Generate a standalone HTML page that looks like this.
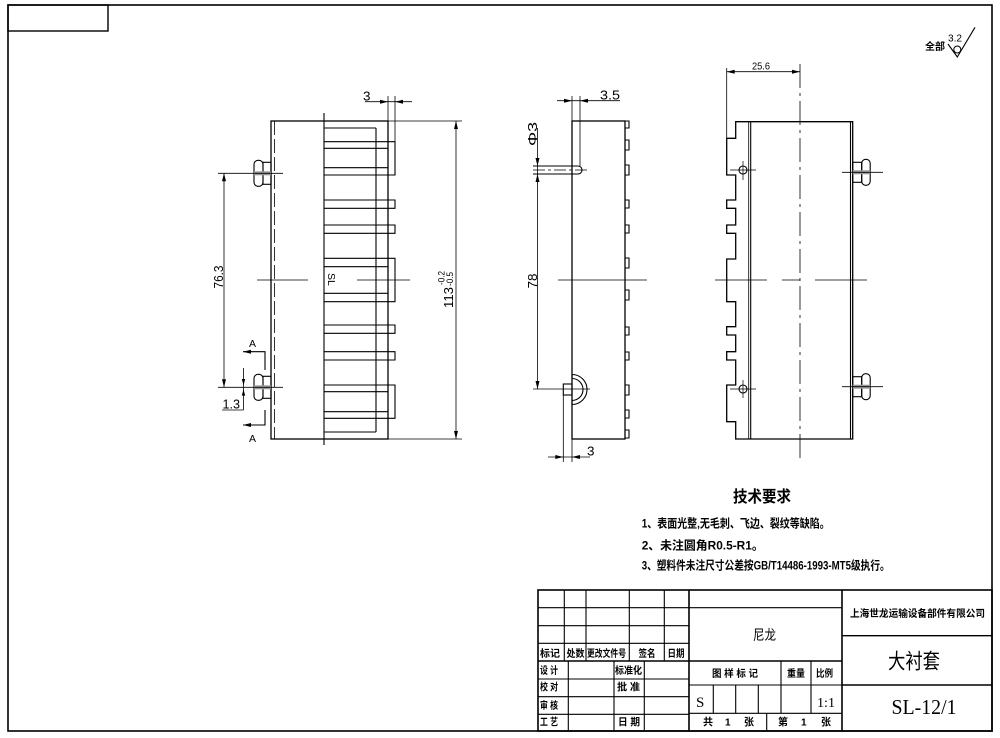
<!DOCTYPE html>
<html><head><meta charset="utf-8"><style>
html,body{margin:0;padding:0;background:#fff;}
svg{display:block;}
text{font-family:"Liberation Sans","Noto Sans CJK SC",sans-serif;fill:#000;stroke:none;}
.c{font-family:"Liberation Sans","Noto Sans CJK SC","WenQuanYi Zen Hei",sans-serif;font-weight:bold;}
.n{font-family:"Liberation Sans","Noto Sans CJK SC","WenQuanYi Zen Hei",sans-serif;font-weight:normal;}
.s{font-family:"Liberation Serif","Noto Serif CJK SC",serif;}
.d{font-family:"Liberation Sans",sans-serif;}
</style></head><body>
<svg width="1000" height="738" viewBox="0 0 1000 738" xmlns="http://www.w3.org/2000/svg">
<rect width="1000" height="738" fill="#fff"/>
<g fill="none" stroke="#000" stroke-width="1.1">
<!-- frame -->
<rect x="8" y="5" width="984" height="726" stroke-width="1.6"/>
<rect x="8" y="5" width="100" height="26" stroke-width="1.4"/>

<!-- ============ LEFT VIEW ============ -->
<rect x="271" y="121" width="117" height="318" stroke-width="1.3"/>
<line x1="274.5" y1="121" x2="274.5" y2="439" stroke-width="0.8" stroke-dasharray="14 4"/>
<line x1="324" y1="113" x2="324" y2="445"/>
<line x1="376" y1="128" x2="376" y2="432"/>
<line x1="324" y1="128" x2="376" y2="128"/>
<line x1="324" y1="432" x2="376" y2="432"/>
<!-- fins -->
<path d="M324 141.7H395V175H324"/>
<path d="M324 148.3H388M324 167.7H388"/>
<path d="M324 200H395V208.3H324"/>
<path d="M324 225H395V233.3H324"/>
<path d="M324 258.3H395V301.7H324"/>
<path d="M324 266.7H388M324 293.3H388"/>
<path d="M324 325H395V333.3H324"/>
<path d="M324 351.7H395V360H324"/>
<path d="M324 385H395V418.3H324"/>
<path d="M324 391.7H388M324 411.7H388"/>
<!-- center line -->
<path d="M257 280H308M357 280H410" stroke-width="0.8"/>
<!-- left pins -->
<rect x="254" y="160.3" width="9" height="26" rx="4"/>
<rect x="263" y="162.3" width="8" height="22"/>
<rect x="254" y="171.3" width="17" height="4" fill="#999" stroke="none"/>
<rect x="254" y="374.3" width="9" height="26" rx="4"/>
<rect x="263" y="376.3" width="8" height="22"/>
<rect x="254" y="385.3" width="17" height="4" fill="#999" stroke="none"/>
<line x1="218" y1="173.3" x2="283" y2="173.3" stroke-width="0.8"/>
<line x1="218" y1="387.3" x2="283" y2="387.3" stroke-width="0.8"/>
<!-- dim 76.3 -->
<line x1="224" y1="173.3" x2="224" y2="387.3" stroke-width="0.8"/>
<!-- dim 1.3 -->
<line x1="243.5" y1="368" x2="243.5" y2="410" stroke-width="0.8"/>
<line x1="222" y1="410" x2="243.5" y2="410" stroke-width="0.8"/>
<!-- section A -->
<path d="M243 351.7H265V370" stroke-width="1.1"/>
<path d="M265 410V425H243" stroke-width="1.1"/>
<!-- dim 3 top -->
<line x1="388" y1="96" x2="388" y2="121" stroke-width="0.8"/>
<line x1="395" y1="96" x2="395" y2="141.7" stroke-width="0.8"/>
<line x1="365" y1="101.7" x2="412" y2="101.7" stroke-width="0.8"/>
<!-- dim 113 -->
<line x1="388" y1="121" x2="462" y2="121" stroke-width="0.8"/>
<line x1="388" y1="439" x2="462" y2="439" stroke-width="0.8"/>
<line x1="456" y1="121" x2="456" y2="439" stroke-width="0.8"/>

<!-- ============ MIDDLE VIEW ============ -->
<rect x="572" y="121" width="53" height="318" stroke-width="1.3"/>
<path d="M625 121H629V128H625M625 140H629V150H625M625 165H629V175H625M625 200H629V208H625M625 225H629V233H625M625 258H629V268H625M625 290H629V300H625M625 327H629V335H625M625 352H629V360H625M625 385H629V395H625M625 410H629V418H625M625 430H629V438H625"/>
<!-- top pin -->
<path d="M533 166H578A4 4 0 0 1 578 174H533"/>
<line x1="533" y1="170" x2="590" y2="170" stroke-width="0.7" stroke-dasharray="12 3 3 3"/>
<!-- bottom pin -->
<rect x="563.3" y="384" width="8.7" height="11"/>
<path d="M572 374.5A15 15 0 0 1 572 404.5M572 378.5A11 11 0 0 1 572 400.5M572 374.5V378.5M572 400.5V404.5"/>
<line x1="533" y1="389" x2="590" y2="389" stroke-width="0.8"/>
<!-- dims -->
<line x1="537.5" y1="128" x2="537.5" y2="389" stroke-width="0.8"/>
<line x1="572" y1="96" x2="572" y2="121" stroke-width="0.8"/>
<line x1="580" y1="96" x2="580" y2="166" stroke-width="0.8"/>
<line x1="557" y1="100.7" x2="620" y2="100.7" stroke-width="0.8"/>
<line x1="563.3" y1="395" x2="563.3" y2="462" stroke-width="0.8"/>
<line x1="572" y1="439" x2="572" y2="462" stroke-width="0.8"/>
<line x1="548" y1="457" x2="590" y2="457" stroke-width="0.8"/>
<line x1="558" y1="280" x2="647" y2="280" stroke-width="0.8"/>

<!-- ============ RIGHT VIEW ============ -->
<path d="M735.7 121.7V138.3H726.7V175H735.7V200H726.7V208.3H735.7V225H726.7V233.3H735.7V259H726.7V301.7H735.7V326.7H726.7V335H735.7V351.7H726.7V360H735.7V385H726.7V421.7H735.7V439H852.7V121.7Z" stroke-width="1.3"/>
<line x1="748.7" y1="121.7" x2="748.7" y2="439" stroke-width="0.8"/>
<line x1="750.7" y1="121.7" x2="750.7" y2="439" stroke-width="1.1"/>
<line x1="850.5" y1="121.7" x2="850.5" y2="439" stroke-width="1.1"/>
<circle cx="743" cy="170" r="4"/>
<circle cx="743" cy="389" r="4"/>
<path d="M730 170H756M743 161V180M730 389H756M743 380V398" stroke-width="0.7"/>
<!-- right pins -->
<rect x="852.7" y="162.3" width="9" height="20"/>
<rect x="861.7" y="159.3" width="8.5" height="26" rx="4"/>
<rect x="852.7" y="170.3" width="17.5" height="4" fill="#999" stroke="none"/>
<rect x="852.7" y="376.7" width="9" height="20"/>
<rect x="861.7" y="373.7" width="8.5" height="26" rx="4"/>
<rect x="852.7" y="384.7" width="17.5" height="4" fill="#999" stroke="none"/>
<line x1="842" y1="172.3" x2="883" y2="172.3" stroke-width="0.8"/>
<line x1="842" y1="386.7" x2="883" y2="386.7" stroke-width="0.8"/>
<!-- center lines -->
<line x1="800" y1="64" x2="800" y2="458" stroke-width="0.8" stroke-dasharray="24 5 3 5"/>
<path d="M715 280H767M782 280H800M815 280H867" stroke-width="0.8"/>
<!-- dim 25.6 -->
<line x1="726.7" y1="68" x2="726.7" y2="138" stroke-width="0.8"/>
<line x1="726.7" y1="71.7" x2="800" y2="71.7" stroke-width="0.8"/>

<!-- ============ ROUGHNESS ============ -->
<polyline points="948,44 957.3,57 975,27.3" stroke-width="1.1"/>
<circle cx="957.3" cy="49.5" r="3.5" stroke-width="1"/>

<!-- ============ TITLE BLOCK ============ -->
<rect x="538" y="590" width="454" height="141" stroke-width="1.6"/>
<line x1="689" y1="590" x2="689" y2="731" stroke-width="1.6"/>
<line x1="842" y1="590" x2="842" y2="731" stroke-width="1.6"/>
<path d="M538 607.7H689M538 625.7H689M538 643.3H689M538 679H689M538 696.7H689M538 714.3H689"/>
<line x1="538" y1="661" x2="842" y2="661" stroke-width="1.5"/>
<path d="M564.3 590V661M586 590V661M629.3 590V661M664.3 590V661"/>
<path d="M568.3 661V731M614 661V731M644.3 661V731"/>
<path d="M689 607.7H842M689 685H842M689 713.3H842"/>
<path d="M781 661V713.3M811 661V713.3M713.3 685V713.3M735.7 685V713.3M758.3 685V713.3M766.7 713.3V731"/>
<path d="M842 635.7H992M842 685H992" stroke-width="1.4"/>
</g>

<!-- arrows -->
<g fill="#000" stroke="none">
<polygon points="388,101.7 380,99.7 380,103.7"/>
<polygon points="395,101.7 403,99.7 403,103.7"/>
<polygon points="456,121 454,129 458,129"/>
<polygon points="456,439 454,431 458,431"/>
<polygon points="224,173.3 222,181.3 226,181.3"/>
<polygon points="224,387.3 222,379.3 226,379.3"/>
<polygon points="243.5,385.3 241.8,379 245.2,379"/>
<polygon points="243.5,389.3 241.8,395.6 245.2,395.6"/>
<polygon points="243,351.7 251,349.7 251,353.7"/>
<polygon points="243,425 251,423 251,427"/>
<polygon points="537.5,166 535.5,158 539.5,158"/>
<polygon points="537.5,174 535.5,182 539.5,182"/>
<polygon points="537.5,389 535.5,381 539.5,381"/>
<polygon points="572,100.7 564,98.7 564,102.7"/>
<polygon points="580,100.7 588,98.7 588,102.7"/>
<polygon points="563.3,457 555.3,455 555.3,459"/>
<polygon points="572,457 580,455 580,459"/>
<polygon points="726.7,71.7 734.7,69.7 734.7,73.7"/>
<polygon points="800,71.7 792,69.7 792,73.7"/>
</g>

<!-- dimension texts -->
<text class="d" x="363" y="100.5" font-size="13" textLength="7.5" lengthAdjust="spacingAndGlyphs">3</text>
<g transform="translate(453,308) rotate(-90)" class="d">
<text x="0" y="0" font-size="13" textLength="21" lengthAdjust="spacingAndGlyphs">113</text>
<text x="22" y="0" font-size="9.5" textLength="14" lengthAdjust="spacingAndGlyphs">-0.5</text>
<text x="23" y="-8.5" font-size="9.5" textLength="14" lengthAdjust="spacingAndGlyphs">-0.2</text>
</g>
<text class="d" transform="translate(223,288.5) rotate(-90)" font-size="13" textLength="23" lengthAdjust="spacingAndGlyphs">76.3</text>
<text class="d" x="222.5" y="408.5" font-size="13" textLength="17.5" lengthAdjust="spacingAndGlyphs">1.3</text>
<text class="d" x="249" y="347" font-size="10.5">A</text>
<text class="d" x="249" y="442" font-size="10.5">A</text>
<text class="d" transform="translate(328,273) rotate(90)" font-size="10.5">SL</text>
<text class="d" x="600" y="99.5" font-size="13" textLength="20" lengthAdjust="spacingAndGlyphs">3.5</text>
<text class="d" transform="translate(537,146) rotate(-90)" font-size="13" textLength="24" lengthAdjust="spacingAndGlyphs">Φ3</text>
<text class="d" transform="translate(537,288.5) rotate(-90)" font-size="13" textLength="15" lengthAdjust="spacingAndGlyphs">78</text>
<text class="d" x="587" y="455.5" font-size="13" textLength="7.5" lengthAdjust="spacingAndGlyphs">3</text>
<text class="d" x="752" y="69.5" font-size="10.5" textLength="18" lengthAdjust="spacingAndGlyphs">25.6</text>
<text class="d" x="948" y="41.5" font-size="10.5" textLength="14" lengthAdjust="spacingAndGlyphs">3.2</text>
<text class="c" x="925" y="50" font-size="10" textLength="20" lengthAdjust="spacingAndGlyphs">全部</text>

<!-- technical requirements -->
<text class="c" x="733" y="502" font-size="16" textLength="58" lengthAdjust="spacingAndGlyphs">技术要求</text>
<text class="c" x="641.7" y="527.5" font-size="12" textLength="188" lengthAdjust="spacingAndGlyphs">1、表面光整,无毛刺、飞边、裂纹等缺陷。</text>
<text class="c" x="641.7" y="549.5" font-size="12" textLength="122" lengthAdjust="spacingAndGlyphs">2、未注圆角R0.5-R1。</text>
<text class="c" x="641.7" y="569.5" font-size="12" textLength="248" lengthAdjust="spacingAndGlyphs">3、塑料件未注尺寸公差按GB/T14486-1993-MT5级执行。</text>

<!-- title block texts -->
<g class="c" font-size="10">
<text x="540" y="657" textLength="20" lengthAdjust="spacingAndGlyphs">标记</text>
<text x="566.5" y="657" textLength="18" lengthAdjust="spacingAndGlyphs">处数</text>
<text x="587" y="657" textLength="39" lengthAdjust="spacingAndGlyphs">更改文件号</text>
<text x="638.5" y="657" textLength="17" lengthAdjust="spacingAndGlyphs">签名</text>
<text x="667.5" y="657" textLength="17" lengthAdjust="spacingAndGlyphs">日期</text>
<text x="540" y="674" textLength="18" lengthAdjust="spacingAndGlyphs">设 计</text>
<text x="540" y="690.5" textLength="18" lengthAdjust="spacingAndGlyphs">校 对</text>
<text x="540" y="709" textLength="18" lengthAdjust="spacingAndGlyphs">审 核</text>
<text x="540" y="725.5" textLength="18" lengthAdjust="spacingAndGlyphs">工 艺</text>
<text x="615" y="674" textLength="27" lengthAdjust="spacingAndGlyphs">标准化</text>
<text x="617" y="690.5" textLength="23" lengthAdjust="spacingAndGlyphs">批 准</text>
<text x="618" y="725.5" textLength="22" lengthAdjust="spacingAndGlyphs">日 期</text>
<text x="712" y="677" textLength="46" lengthAdjust="spacingAndGlyphs">图 样 标 记</text>
<text x="787" y="677" textLength="18" lengthAdjust="spacingAndGlyphs">重量</text>
<text x="816" y="677" textLength="17" lengthAdjust="spacingAndGlyphs">比例</text>
<text x="703" y="725.5">共</text>
<text x="725" y="725.5">1</text>
<text x="744" y="725.5">张</text>
<text x="778" y="725.5">第</text>
<text x="801" y="725.5">1</text>
<text x="821" y="725.5">张</text>
<text x="850" y="617" textLength="135" lengthAdjust="spacingAndGlyphs">上海世龙运输设备部件有限公司</text>
</g>
<text class="n" x="753" y="640" font-size="14" textLength="23" lengthAdjust="spacingAndGlyphs">尼龙</text>
<text class="s" x="696" y="707" font-size="15">S</text>
<text class="s" x="817" y="707" font-size="14" textLength="18" lengthAdjust="spacingAndGlyphs">1:1</text>
<text class="n" x="888" y="668.5" font-size="21" textLength="52" lengthAdjust="spacingAndGlyphs">大衬套</text>
<text class="s" x="891.5" y="714" font-size="21" textLength="65" lengthAdjust="spacingAndGlyphs">SL-12/1</text>
</svg>
</body></html>
